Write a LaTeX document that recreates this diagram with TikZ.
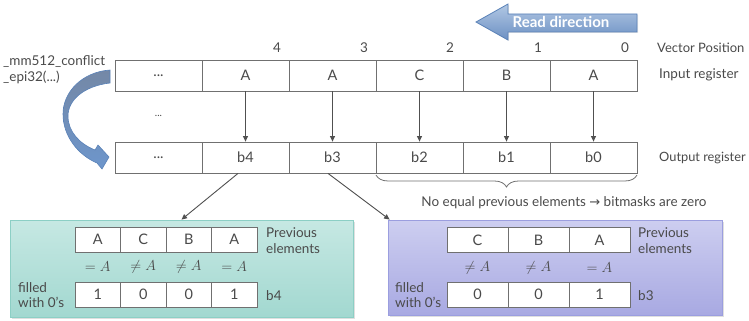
\documentclass[tikz,border=0pt]{standalone}
\usepackage{fontspec}
\setmainfont{Lato}
\newfontfamily\symfont{DejaVu Sans}
\usetikzlibrary{arrows.meta,decorations.pathreplacing,shadows}
\definecolor{ink}{HTML}{4A4A4A}
\definecolor{cellline}{HTML}{707070}
\definecolor{connline}{HTML}{505050}
\definecolor{tealtop}{HTML}{C6E8E3}
\definecolor{tealbot}{HTML}{A2D8D0}
\definecolor{tealline}{HTML}{8CCFC5}
\definecolor{lilactop}{HTML}{CDCEF0}
\definecolor{lilacbot}{HTML}{A8A9E2}
\definecolor{lilacline}{HTML}{9B9EDF}
\definecolor{bluetop}{HTML}{B2C8E4}
\definecolor{bluebot}{HTML}{6C90C3}
\definecolor{blueline}{HTML}{5A82B8}
\definecolor{curvetop}{HTML}{7488A6}
\definecolor{curvebot}{HTML}{6D96CC}
\begin{document}
\begin{tikzpicture}[x=1pt,y=-1pt,
  txt/.style={text=ink,font=\fontsize{13.5}{15}\selectfont,inner sep=0pt},
  lbl/.style={txt,anchor=west,align=left},
  two/.style={lbl,font=\fontsize{13.5}{15.5}\selectfont},
  cell/.style={draw=cellline,line width=0.8pt,fill=white,minimum width=87pt,
    minimum height=31pt,inner sep=0pt,text=ink,font=\fontsize{14.5}{16}\selectfont},
  mini/.style={cell,minimum width=45.5pt,minimum height=25pt},
  wide/.style={cell,minimum width=61pt,minimum height=25pt},
  rel/.style={text=ink,font=\fontsize{13.5}{15}\selectfont,inner sep=0pt},
  conn/.style={draw=connline,line width=0.9pt,-{Triangle[length=5.5pt,width=5pt]}},
  panel/.style={draw=#1line,line width=0.8pt,top color=#1top,bottom color=#1bot,
    drop shadow={opacity=0.25,shadow xshift=1.5pt,shadow yshift=-1.5pt}},
]
\useasboundingbox (0,0) rectangle (749,321);

% read direction arrow
\path[draw=blueline,line width=0.8pt,top color=bluetop,bottom color=bluebot,
  drop shadow={opacity=0.2,shadow xshift=1pt,shadow yshift=-1pt}]
  (476,22) -- (508,4) -- (508,14) -- (637,14) -- (637,32) -- (508,32) -- (508,40) -- cycle;
\node[text=white,font=\fontsize{15}{17}\selectfont\bfseries,inner sep=0pt] (rd) at (561,22) {Read direction};

% vector positions
\node[txt] (p4) at (277,48) {4};
\node[txt] (p3) at (364,48) {3};
\node[txt] (p2) at (450,48) {2};
\node[txt] (p1) at (538,48) {1};
\node[txt] (p0) at (625,48) {0};
\node[lbl,font=\fontsize{13}{15}\selectfont] (vp) at (657,48) {Vector Position};

% input register
\node[cell] (in5) at (158.5,75.5) {...};
\node[cell] (in4) at (245.5,75.5) {A};
\node[cell] (in3) at (332.5,75.5) {A};
\node[cell] (in2) at (419.5,75.5) {C};
\node[cell] (in1) at (506.5,75.5) {B};
\node[cell] (in0) at (593.5,75.5) {A};
\node[lbl] (inl) at (659,75) {Input register};

\node[txt,font=\fontsize{10}{12}\selectfont] (gap) at (158.5,116) {...};

% output register
\node[cell] (out5) at (158.5,157.5) {...};
\node[cell] (out4) at (245.5,157.5) {b4};
\node[cell] (out3) at (332.5,157.5) {b3};
\node[cell] (out2) at (419.5,157.5) {b2};
\node[cell] (out1) at (506.5,157.5) {b1};
\node[cell] (out0) at (593.5,157.5) {b0};
\node[lbl,font=\fontsize{12.8}{15}\selectfont] (outl) at (659,158) {Output register};

\foreach \i in {0,...,4} {\draw[conn] (in\i.south) -- (out\i.north);}

% intrinsic label and curved arrow
\node[two] (fn) at (3,69.5) {\_mm512\_conflict\\\_epi32(...)};
\path[draw=blueline,line width=0.6pt,top color=curvetop,bottom color=curvebot]
  (110,70) .. controls (82,72) and (63,92) .. (63,114)
  .. controls (63,136) and (78,155) .. (97,163)
  -- (102,169) -- (109,157) -- (98,145) -- (95,150)
  .. controls (80,144) and (68,132) .. (68,116)
  .. controls (68,100) and (84,86) .. (110,83) -- cycle;

% brace over the zero bitmasks
\draw[cellline,line width=0.8pt,decorate,decoration={brace,mirror,amplitude=12pt}]
  (376,175) -- (637,175);
\node[txt] (zero) at (564,203) {No equal previous elements {\symfont\fontsize{13}{15}\selectfont →} bitmasks are zero};

% detail panels
\node[panel=teal,minimum width=343pt,minimum height=97pt,inner sep=0pt] (tbox) at (181.5,268.5) {};
\node[panel=lilac,minimum width=334pt,minimum height=95pt,inner sep=0pt] (pbox) at (555,267.5) {};

\draw[conn] ([xshift=-7.5pt]out4.south) -- (tbox.north);
\draw[conn] ([xshift=-4.5pt]out3.south) -- ([xshift=2pt]pbox.north west);

% panel for b4
\node[mini] (ta) at (97.75,239.5) {A};
\node[mini] (tb) at (143.25,239.5) {C};
\node[mini] (tc) at (188.75,239.5) {B};
\node[mini] (td) at (234.25,239.5) {A};
\node[rel] (ra) at (97.75,267) {$=A$};
\node[rel] (rb) at (143.25,267) {$\neq A$};
\node[rel] (rc) at (188.75,267) {$\neq A$};
\node[rel] (rd4) at (234.25,267) {$=A$};
\node[mini] (va) at (97.75,294.5) {1};
\node[mini] (vb) at (143.25,294.5) {0};
\node[mini] (vc) at (188.75,294.5) {0};
\node[mini] (vd) at (234.25,294.5) {1};
\node[two] (tprev) at (266,240.5) {Previous\\elements};
\node[lbl] (tb4) at (266,296) {b4};
\node[two] (tfill) at (18,295) {filled\\with 0's};

% panel for b3
\node[wide] (pa) at (477.5,240) {C};
\node[wide] (pb) at (538.5,240) {B};
\node[wide] (pc) at (599.5,240) {A};
\node[rel] (qa) at (477.5,268) {$\neq A$};
\node[rel] (qb) at (538.5,268) {$\neq A$};
\node[rel] (qc) at (599.5,268) {$=A$};
\node[wide] (wa) at (477.5,294.5) {0};
\node[wide] (wb) at (538.5,294.5) {0};
\node[wide] (wc) at (599.5,294.5) {1};
\node[two] (pprev) at (638,240.5) {Previous\\elements};
\node[lbl] (pb3) at (638,296) {b3};
\node[two] (pfill) at (395,295) {filled\\with 0's};
\end{tikzpicture}
\end{document}
